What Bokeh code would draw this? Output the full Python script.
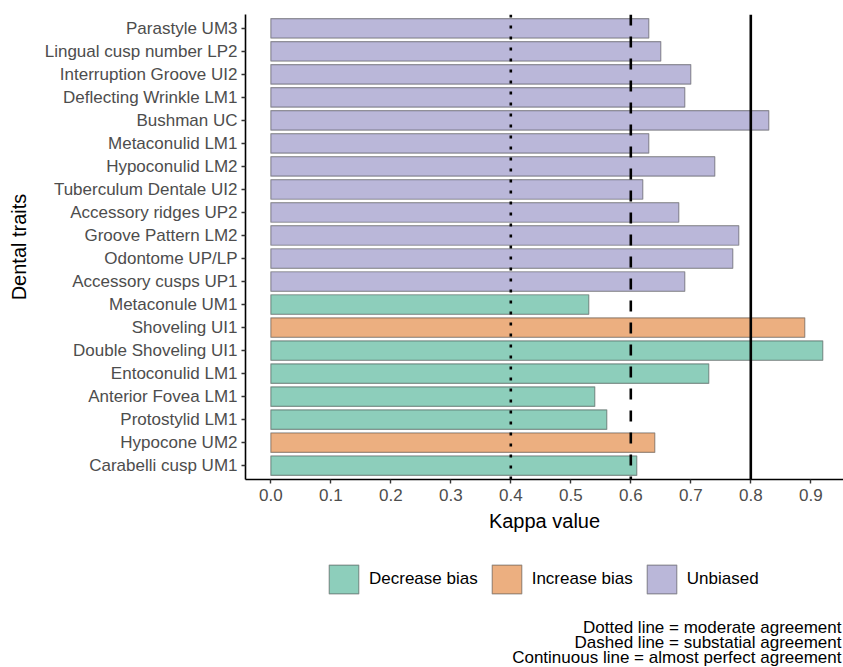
from bokeh.plotting import figure
from bokeh.layouts import column
from bokeh.models import (ColumnDataSource, Range1d, FixedTicker, Span, Legend,
                          LegendItem, Label)
from bokeh.embed import file_html
from bokeh.resources import INLINE

# ---------------- data ----------------
traits = [
    "Parastyle UM3", "Lingual cusp number LP2", "Interruption Groove UI2",
    "Deflecting Wrinkle LM1", "Bushman UC", "Metaconulid LM1", "Hypoconulid LM2",
    "Tuberculum Dentale UI2", "Accessory ridges UP2", "Groove Pattern LM2",
    "Odontome UP/LP", "Accessory cusps UP1", "Metaconule UM1", "Shoveling UI1",
    "Double Shoveling UI1", "Entoconulid LM1", "Anterior Fovea LM1",
    "Protostylid LM1", "Hypocone UM2", "Carabelli cusp UM1",
]
kappa = [0.63, 0.65, 0.70, 0.69, 0.83, 0.63, 0.74, 0.62, 0.68, 0.78,
         0.77, 0.69, 0.53, 0.89, 0.92, 0.73, 0.54, 0.56, 0.64, 0.61]
bias = [
    "Unbiased", "Unbiased", "Unbiased", "Unbiased", "Unbiased", "Unbiased",
    "Unbiased", "Unbiased", "Unbiased", "Unbiased", "Unbiased", "Unbiased",
    "Decrease bias", "Increase bias", "Decrease bias", "Decrease bias",
    "Decrease bias", "Decrease bias", "Increase bias", "Decrease bias",
]
groups = ["Decrease bias", "Increase bias", "Unbiased"]
group_colors = ["#1B9E77", "#D95F02", "#7570B3"]
thresholds = [0.4, 0.6, 0.8]
threshold_dashes = ["3 8", "11 11", "solid"]
x_ticks = [0.0, 0.1, 0.2, 0.3, 0.4, 0.5, 0.6, 0.7, 0.8, 0.9]
x_tick_labels = ["0.0", "0.1", "0.2", "0.3", "0.4", "0.5", "0.6", "0.7", "0.8", "0.9"]
caption_lines = [
    "Dotted line = moderate agreement",
    "Dashed line = substatial agreement",
    "Continuous line = almost perfect agreement",
]

FONT = "Liberation Sans"
W = 843
TOP, FRAME_H, BOTTOM = 14, 465, 60
LEFT = 245
H1 = TOP + FRAME_H + BOTTOM
H2 = 667 - H1

n = len(traits)
ypos = [n - i for i in range(n)]  # first trait at the top
y_lo, y_hi = 0.4, n + 0.6
x_lo, x_hi = -0.0422, 0.9545

# ---------------- main chart ----------------
p = figure(width=W, height=H1, output_backend="svg", toolbar_location=None,
           x_range=Range1d(x_lo, x_hi), y_range=Range1d(y_lo, y_hi),
           min_border_left=LEFT, min_border_right=0, min_border_top=TOP,
           min_border_bottom=BOTTOM)
p.title.visible = False
p.outline_line_color = None
p.grid.visible = False

for g, c in zip(groups, group_colors):
    idx = [i for i, b in enumerate(bias) if b == g]
    src = ColumnDataSource(dict(y=[ypos[i] for i in idx], right=[kappa[i] for i in idx]))
    p.hbar(y="y", left=0, right="right", height=0.85, source=src,
           fill_color=c, fill_alpha=0.5, line_color="#333333",
           line_alpha=0.45, line_width=1.2)

for t, d in zip(thresholds, threshold_dashes):
    p.add_layout(Span(location=t, dimension="height", line_color="black",
                      line_width=2.6, line_dash=d))

p.xaxis.ticker = FixedTicker(ticks=x_ticks)
p.xaxis.major_label_overrides = {t: l for t, l in zip(x_ticks, x_tick_labels)}
p.yaxis.ticker = FixedTicker(ticks=ypos)
p.yaxis.major_label_overrides = {y: t for y, t in zip(ypos, traits)}
p.xaxis.axis_label = "Kappa value"
p.yaxis.axis_label = "Dental traits"
for ax in (p.xaxis, p.yaxis):
    ax.axis_line_color = "black"
    ax.axis_line_width = 1.6
    ax.major_tick_line_color = "#333333"
    ax.major_tick_line_width = 1.4
    ax.major_tick_out = 4
    ax.major_tick_in = 0
    ax.minor_tick_line_color = None
    ax.major_label_text_font = FONT
    ax.major_label_text_font_size = "17px"
    ax.major_label_text_color = "#4d4d4d"
    ax.axis_label_text_font = FONT
    ax.axis_label_text_font_size = "20px"
    ax.axis_label_text_font_style = "normal"
    ax.axis_label_text_color = "black"
p.xaxis.major_label_standoff = 5
p.xaxis.axis_label_standoff = 6
p.yaxis.major_label_standoff = 4
p.yaxis.axis_label_standoff = 12

# ---------------- legend + caption strip ----------------
q = figure(width=W, height=H2, output_backend="svg", toolbar_location=None,
           x_range=Range1d(LEFT, W), y_range=Range1d(0, H2),
           x_axis_location=None, y_axis_location=None,
           min_border_left=LEFT, min_border_right=0, min_border_top=0,
           min_border_bottom=0)
q.title.visible = False
q.outline_line_color = None
q.grid.visible = False

items = []
for g, c in zip(groups, group_colors):
    # legend key only: one undefined (NaN) row, so nothing is drawn in the strip
    key_src = ColumnDataSource(dict(y=[float("nan")], right=[float("nan")]))
    r = q.hbar(y="y", left=0, right="right", height=1, source=key_src,
               fill_color=c, fill_alpha=0.5, line_color="#333333",
               line_alpha=0.45, line_width=1.2)
    items.append(LegendItem(label=g, renderers=[r]))

legend = Legend(items=items, orientation="horizontal",
                location=(325 - LEFT, H2 - 58),
                glyph_width=37, glyph_height=36, label_standoff=7, spacing=10,
                label_text_font=FONT, label_text_font_size="17px",
                label_text_color="black", border_line_color=None,
                background_fill_alpha=0, margin=0, padding=10)
q.add_layout(legend)

for k, line in enumerate(caption_lines):
    q.add_layout(Label(x=W - 2, y=H2 - 87.7 - 15.3 * k, text=line,
                       text_align="right", text_baseline="middle",
                       text_font=FONT, text_font_size="17px", text_color="black"))

open("out.html", "w").write(file_html(column(p, q, spacing=0), INLINE))
